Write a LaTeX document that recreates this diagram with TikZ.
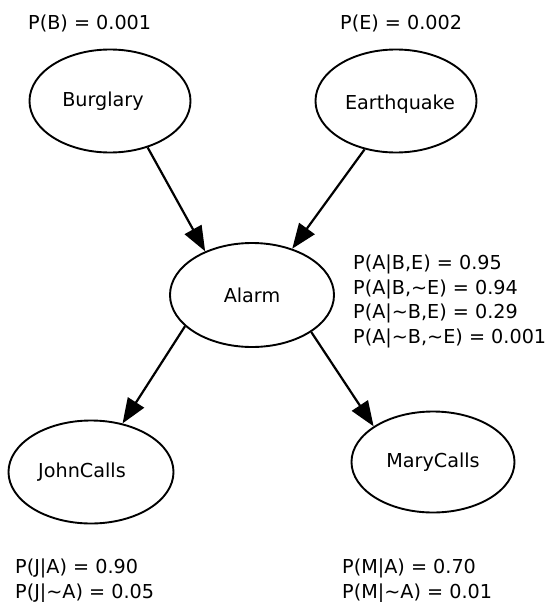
\documentclass[tikz,border=0pt]{standalone}
\usepackage{fontspec}
\setmainfont{DejaVu Sans}
\usetikzlibrary{shapes.geometric,arrows.meta}
\newcommand{\tld}{\textasciitilde{}}
\begin{document}
\begin{tikzpicture}[x=1pt,y=-1pt,
  every node/.style={font=\fontsize{19.2}{24.7}\selectfont},
  bnode/.style={draw, ellipse, line width=1.9pt, minimum width=161pt, minimum height=103pt, inner sep=0pt},
  cpt/.style={anchor=base west, inner sep=0pt},
  arr/.style={line width=2.2pt, -{Triangle[length=25pt,width=19pt]}}]
\useasboundingbox (0,0) rectangle (547,602);
% network nodes
\node[bnode] (B) at (110,101) {\kern-14pt Burglary};
\node[bnode, text height=22pt, text depth=4.4pt] (E) at (396,101) {Earthquake\kern-8pt};
\node[bnode, minimum width=164pt, minimum height=104pt] (A) at (252,295) {Alarm};
\node[bnode, minimum width=165pt] (J) at (91,472) {\kern-18pt JohnCalls};
\node[bnode, minimum width=163pt, minimum height=101pt] (M) at (433,462) {MaryCalls};
% edges
\draw[arr] (B.-51) -- (A.137);
\draw[arr] (E.-123) -- (A.49);
\draw[arr] (A.-155) -- (J.57);
\draw[arr] (A.-32) -- (M.149);
% probability tables
\node[cpt] (pB) at (28,30) {P(B) = 0.001};
\node[cpt] (pE) at (340,30) {P(E) = 0.002};
\node[cpt] (pA1) at (353,269) {P(A|B,E) = 0.95};
\node[cpt] (pA2) at (353,294) {P(A|B,\tld E) = 0.94};
\node[cpt] (pA3) at (353,318) {P(A|\tld B,E) = 0.29};
\node[cpt] (pA4) at (353,343) {P(A|\tld B,\tld E) = 0.001};
\node[cpt] (pJ1) at (15,573) {P(J|A) = 0.90};
\node[cpt] (pJ2) at (15,598) {P(J|\tld A) = 0.05};
\node[cpt] (pM1) at (342,573) {P(M|A) = 0.70};
\node[cpt] (pM2) at (342,598) {P(M|\tld A) = 0.01};
\end{tikzpicture}
\end{document}
